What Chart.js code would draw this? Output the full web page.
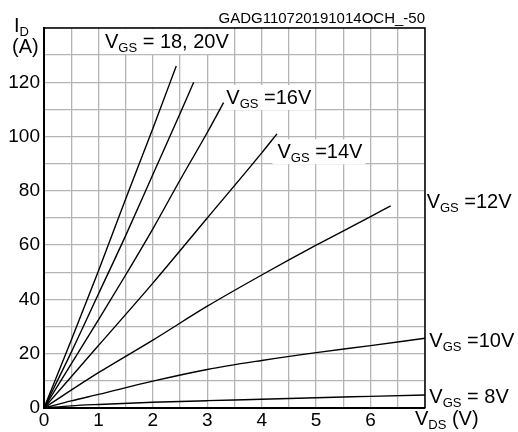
<!DOCTYPE html>
<html>
<head>
<meta charset="utf-8">
<script src="https://cdn.jsdelivr.net/npm/chart.js@4.4.1/dist/chart.umd.min.js"></script>
<style>
  html, body { margin: 0; padding: 0; background: #fff; }
</style>
</head>
<body>
<canvas id="myChart" width="518" height="432"></canvas>
<script>
// output characteristics
const vds20 = [0, 0.5, 1, 1.5, 2, 2.43];
const id20 = [0, 25, 50.5, 77, 103, 126];
const vds18 = [0, 0.5, 1, 1.5, 2, 2.5, 2.75];
const id18 = [0, 20.5, 42, 63.5, 86, 108.5, 120];
const vds16 = [0, 1, 1.5, 2, 2.5, 3, 3.3];
const id16 = [0, 32.5, 49, 66, 84, 101.5, 112.5];
const vds14 = [0, 1, 2, 3, 4, 4.28];
const id14 = [0, 23, 46, 70, 94, 101];
const vds12 = [0, 1, 2, 3, 4, 5, 6, 6.37];
const id12 = [0, 13, 25, 37.5, 49, 60, 70.5, 74.5];
const vds10 = [0, 0.5, 1, 2, 3, 4, 5, 6, 7];
const id10 = [0, 2.6, 5, 9.9, 14.2, 17.5, 20.4, 23, 25.7];
const vds8 = [0, 0.5, 1, 2, 3, 4, 5, 6, 7];
const id8 = [0, 0.8, 1.3, 2.1, 2.7, 3.2, 3.8, 4.3, 4.8];

const xTicks = [0, 1, 2, 3, 4, 5, 6];
const yTicks = [0, 20, 40, 60, 80, 100, 120];
const curveNames = ["VGS = 20V", "VGS = 18V", "VGS = 16V", "VGS = 14V", "VGS = 12V", "VGS = 10V", "VGS = 8V"];
const labelRest = ["= 18, 20V", "=16V", "=14V", "=12V", "=10V", "= 8V"];

const FONT = "Arial, 'Liberation Sans', sans-serif";
const MAIN = "20px " + FONT;
const SUB = "13px " + FONT;

function toPoints(xs, ys) {
  return xs.map((x, i) => ({ x: x, y: ys[i] }));
}

const series = [
  [vds20, id20], [vds18, id18], [vds16, id16], [vds14, id14],
  [vds12, id12], [vds10, id10], [vds8, id8]
];

// where the curve labels sit, in axis units (VDS, ID)
const labelPos = [
  { x: 1.12, y: 132.6, box: true },
  { x: 3.35, y: 112, box: true },
  { x: 4.29, y: 92, box: true },
  { x: 7.03, y: 73.8, box: false },
  { x: 7.08, y: 22.3, box: false },
  { x: 7.08, y: 1.7, box: false }
];

function measureLabel(ctx, rest) {
  ctx.font = MAIN;
  let w = ctx.measureText("V").width;
  ctx.font = SUB;
  w += ctx.measureText("GS").width;
  ctx.font = MAIN;
  w += ctx.measureText(" " + rest).width;
  return w;
}

function drawSubText(ctx, x, y, main, sub, rest) {
  ctx.fillStyle = "#000";
  ctx.textBaseline = "alphabetic";
  ctx.textAlign = "left";
  ctx.font = MAIN;
  ctx.fillText(main, x, y);
  x += ctx.measureText(main).width;
  ctx.font = SUB;
  ctx.fillText(sub, x, y + 4);
  x += ctx.measureText(sub).width;
  if (rest) {
    ctx.font = MAIN;
    ctx.fillText(rest, x, y);
  }
}

const labelPlugin = {
  id: "curveLabels",
  beforeDatasetsDraw(chart) {
    const ctx = chart.ctx;
    const xs = chart.scales.x, ys = chart.scales.y;
    ctx.save();
    ctx.fillStyle = "#fff";
    labelPos.forEach((p, i) => {
      if (!p.box) return;
      const px = xs.getPixelForValue(p.x);
      const py = ys.getPixelForValue(p.y);
      const w = measureLabel(ctx, labelRest[i]);
      const top = Math.max(py - 19, chart.chartArea.top + 1);
      ctx.fillRect(px - 5, top, w + 8, py + 6 - top);
    });
    ctx.restore();
  },
  afterDraw(chart) {
    const ctx = chart.ctx;
    const xs = chart.scales.x, ys = chart.scales.y;
    const a = chart.chartArea;
    ctx.save();
    // frame top / right
    ctx.strokeStyle = "#000";
    ctx.lineWidth = 1.5;
    ctx.beginPath();
    ctx.moveTo(a.left, a.top);
    ctx.lineTo(a.right, a.top);
    ctx.lineTo(a.right, a.bottom);
    ctx.stroke();

    labelPos.forEach((p, i) => {
      drawSubText(ctx, xs.getPixelForValue(p.x), ys.getPixelForValue(p.y), "V", "GS", " " + labelRest[i]);
    });

    // axis titles
    drawSubText(ctx, 14, 32, "I", "D", "");
    ctx.font = MAIN;
    ctx.fillText("(A)", 12, 53);
    drawSubText(ctx, a.right - 10, 425, "V", "DS", " (V)");

    // figure code
    ctx.font = "15px " + FONT;
    ctx.textAlign = "right";
    ctx.fillText("GADG110720191014OCH_-50", a.right, 23);
    ctx.restore();
  }
};

const gridColor = "#b4b4b4";

new Chart(document.getElementById("myChart"), {
  type: "line",
  data: {
    datasets: series.map((s, i) => ({
      label: curveNames[i],
      data: toPoints(s[0], s[1]),
      borderColor: "#000",
      borderWidth: 1.4,
      pointRadius: 0,
      fill: false,
      cubicInterpolationMode: "monotone"
    }))
  },
  options: {
    responsive: false,
    animation: false,
    devicePixelRatio: 1,
    layout: { padding: { top: 28, right: 93, left: 0, bottom: 0 } },
    plugins: {
      legend: { display: false },
      tooltip: { enabled: false }
    },
    scales: {
      x: {
        type: "linear",
        min: 0,
        max: 7,
        afterFit: (scale) => { scale.height = 24; },
        ticks: {
          stepSize: 0.5,
          autoSkip: false,
          maxRotation: 0,
          padding: 1,
          color: "#000",
          font: { size: 19, family: FONT },
          callback: (v) => (xTicks.includes(v) ? String(v) : "")
        },
        grid: { color: gridColor, lineWidth: 1.3, drawTicks: false },
        border: { color: "#000", width: 2 }
      },
      y: {
        type: "linear",
        min: 0,
        max: 140,
        afterFit: (scale) => { scale.width = 44; },
        ticks: {
          stepSize: 10,
          autoSkip: false,
          padding: 4,
          color: "#000",
          font: { size: 19, family: FONT },
          callback: (v) => (yTicks.includes(v) ? String(v) : "")
        },
        grid: { color: gridColor, lineWidth: 1.3, drawTicks: false },
        border: { color: "#000", width: 2 }
      }
    }
  },
  plugins: [labelPlugin]
});
</script>
</body>
</html>
